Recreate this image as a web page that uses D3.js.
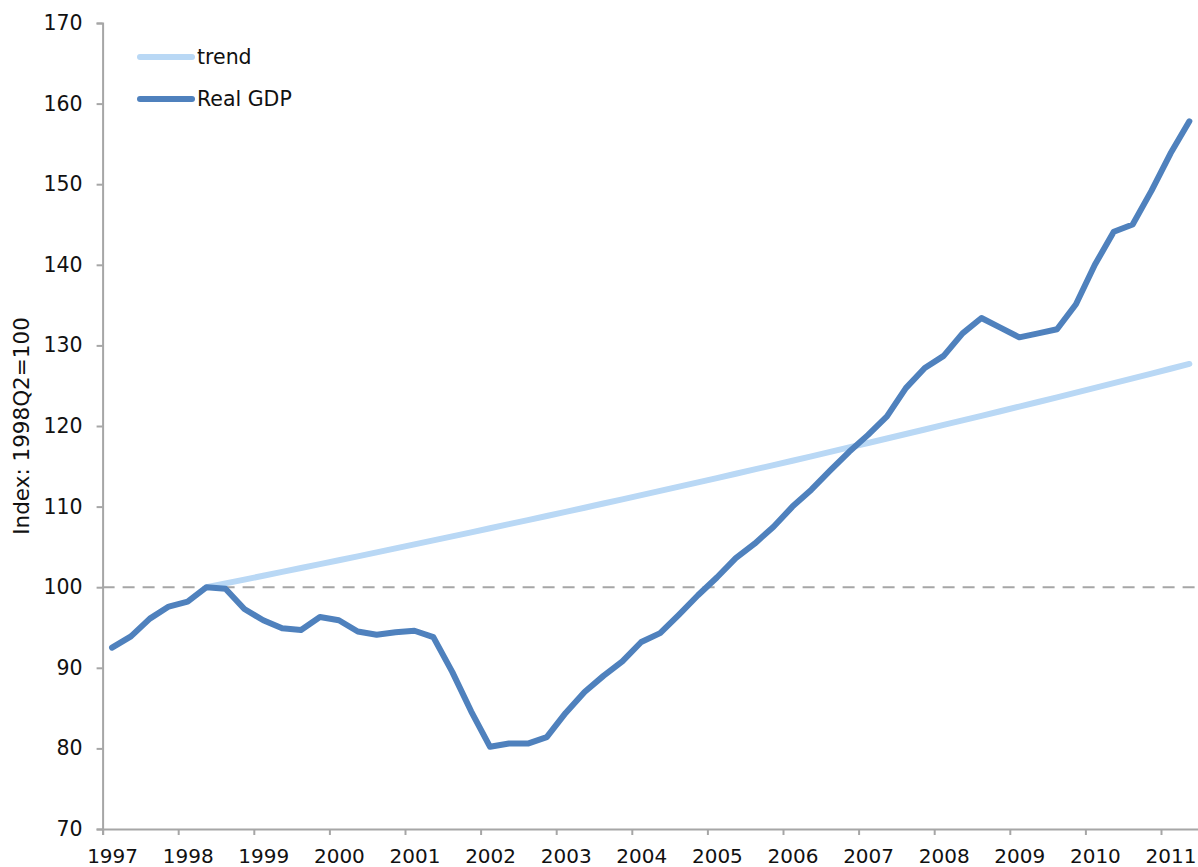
<!DOCTYPE html>
<html>
<head>
<meta charset="utf-8">
<script src="https://cdn.jsdelivr.net/npm/d3@7"></script>
<style>
  body { margin: 0; background: #fff; }
  svg text { font-family: "DejaVu Sans", Verdana, sans-serif; fill: #111; }
</style>
</head>
<body>
<svg id="chart" width="1198" height="867"></svg>
<script>
// years on the category axis (4 quarters each)
var years = ['1997','1998','1999','2000','2001','2002','2003','2004','2005','2006','2007','2008','2009','2010','2011'];

// real GDP, quarterly from 1997Q1 to 2011Q2, index 1998Q2=100
var realGdp = [92.5, 93.9, 96.1, 97.6, 98.2, 100.0, 99.8, 97.3, 95.9, 94.9,
  94.7, 96.3, 95.9, 94.5, 94.1, 94.4, 94.6, 93.8, 89.5, 84.6,
  80.2, 80.6, 80.6, 81.4, 84.4, 87.0, 89.0, 90.8, 93.2, 94.3,
  96.6, 99.0, 101.2, 103.6, 105.4, 107.5, 110.0, 112.1, 114.5, 116.8,
  118.9, 121.2, 124.7, 127.2, 128.7, 131.5, 133.4, 132.2, 131.0, 131.5,
  132.0, 135.1, 140.0, 144.1, 145.0, 149.2, 153.8, 157.8];

// trend, starts at 1998Q2 (quarter index 5)
var trendStart = 5;
var trend = [100.00, 100.47, 100.94, 101.42, 101.90, 102.38, 102.86, 103.35, 103.83, 104.32,
  104.81, 105.31, 105.81, 106.31, 106.81, 107.31, 107.82, 108.32, 108.84, 109.35,
  109.86, 110.38, 110.90, 111.42, 111.95, 112.48, 113.01, 113.54, 114.08, 114.61,
  115.15, 115.69, 116.24, 116.79, 117.34, 117.89, 118.45, 119.01, 119.57, 120.13,
  120.69, 121.26, 121.83, 122.41, 122.98, 123.56, 124.15, 124.73, 125.32, 125.91,
  126.50, 127.10, 127.70];

var yTicks = [70, 80, 90, 100, 110, 120, 130, 140, 150, 160, 170];
var refLevel = 100;

var svg = d3.select("#chart");
var nQuarters = realGdp.length;

var x = d3.scaleLinear().domain([0, nQuarters]).range([102.6, 102.6 + nQuarters * 18.9]);
var y = d3.scaleLinear().domain([70, 170]).range([829, 23]);

var axisColor = "#a6a6a6";
var labelSize = 20.5;

// y axis
var yAxis = svg.append("g")
  .attr("transform", "translate(" + x(0) + ",0)")
  .call(d3.axisLeft(y).tickValues(yTicks).tickSize(6).tickPadding(14).tickFormat(d3.format("d")));
yAxis.attr("font-size", null).attr("font-family", null);
yAxis.select(".domain").attr("stroke", axisColor).attr("stroke-width", 2);
yAxis.selectAll(".tick line").attr("stroke", axisColor).attr("stroke-width", 2);
yAxis.selectAll("text").style("font-size", labelSize + "px").attr("fill", "#111");

// x axis
var xTickVals = years.map(function(d, i) { return i * 4; });
var xAxis = svg.append("g")
  .attr("transform", "translate(0," + y(70) + ")")
  .call(d3.axisBottom(x).tickValues(xTickVals).tickSize(6).tickPadding(14)
    .tickFormat(function(d) { return years[d / 4]; }));
xAxis.attr("font-size", null).attr("font-family", null);
xAxis.select(".domain").attr("stroke", axisColor).attr("stroke-width", 2);
xAxis.selectAll(".tick line").attr("stroke", axisColor).attr("stroke-width", 2);
xAxis.selectAll("text").style("font-size", "20px").attr("fill", "#111")
  .attr("dx", 9.5);

// y title
svg.append("text")
  .attr("transform", "translate(29,426) rotate(-90)")
  .attr("text-anchor", "middle")
  .style("font-size", "21.5px")
  .text("Index: 1998Q2=100");

// dashed reference at 100
svg.append("line")
  .attr("x1", x(0)).attr("x2", 1198)
  .attr("y1", y(refLevel)).attr("y2", y(refLevel))
  .attr("stroke", "#a6a6a6").attr("stroke-width", 2)
  .attr("stroke-dasharray", "12,8");

var line = d3.line()
  .x(function(d) { return x(d.i + 0.5); })
  .y(function(d) { return y(d.v); });

var trendPts = trend.map(function(v, k) { return {i: k + trendStart, v: v}; });
var gdpPts = realGdp.map(function(v, i) { return {i: i, v: v}; });

svg.append("path")
  .datum(trendPts)
  .attr("d", line)
  .attr("fill", "none")
  .attr("stroke", "#b9d8f5")
  .attr("stroke-width", 6)
  .attr("stroke-linecap", "round")
  .attr("stroke-linejoin", "round");

svg.append("path")
  .datum(gdpPts)
  .attr("d", line)
  .attr("fill", "none")
  .attr("stroke", "#4f81bd")
  .attr("stroke-width", 6)
  .attr("stroke-linecap", "round")
  .attr("stroke-linejoin", "round");

// legend
var legend = [{name: "trend", color: "#b9d8f5", y: 57}, {name: "Real GDP", color: "#4f81bd", y: 99}];
var lg = svg.selectAll(".legend").data(legend).enter().append("g").attr("class", "legend");
lg.append("line")
  .attr("x1", 140).attr("x2", 192)
  .attr("y1", function(d) { return d.y; }).attr("y2", function(d) { return d.y; })
  .attr("stroke", function(d) { return d.color; })
  .attr("stroke-width", 6)
  .attr("stroke-linecap", "round");
lg.append("text")
  .attr("x", 197)
  .attr("y", function(d) { return d.y; })
  .attr("dy", "0.35em")
  .style("font-size", labelSize + "px")
  .text(function(d) { return d.name; });
</script>
</body>
</html>
